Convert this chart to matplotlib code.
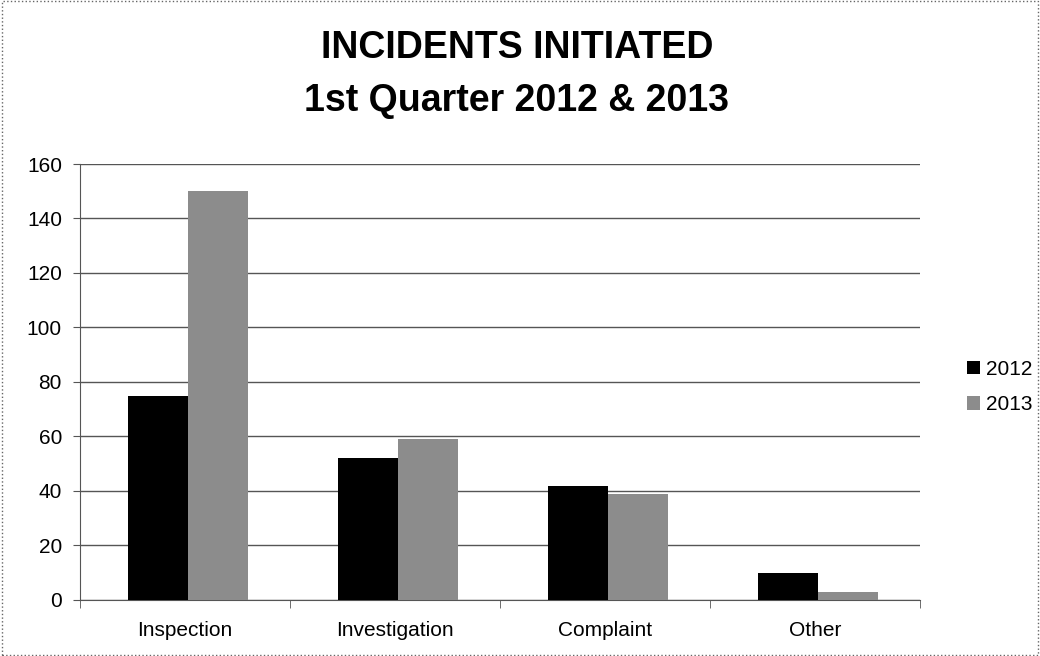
import matplotlib.pyplot as plt
from matplotlib.patches import Rectangle
import numpy as np

# data
categories = ["Inspection", "Investigation", "Complaint", "Other"]
vals_2012 = [75, 52, 42, 10]
vals_2013 = [150, 59, 39, 3]
yticks = [0, 20, 40, 60, 80, 100, 120, 140, 160]

plt.rcParams["font.family"] = ["Liberation Sans", "DejaVu Sans"]

fig = plt.figure(figsize=(10.4, 6.56), dpi=100)
ax = fig.add_axes([0.0769, 0.0854, 0.8077, 0.6646])

x = np.arange(len(categories))
w = 0.285
off = 0.015
ax.bar(x - w / 2 + off, vals_2012, w, color="black", label="2012", zorder=3)
ax.bar(x + w / 2 + off, vals_2013, w, color="#8c8c8c", label="2013", zorder=3)

ax.set_xlim(-0.5, len(categories) - 0.5)
ax.set_ylim(0, 160)
ax.set_yticks(yticks)
ax.yaxis.grid(True, color="#555555", linewidth=1, zorder=0)

ax.set_xticks(x)
ax.set_xticklabels(categories, fontsize=15)
ax.set_xticks(np.arange(-0.5, len(categories)), minor=True)
ax.tick_params(axis="x", which="major", length=0, pad=15)
ax.tick_params(axis="x", which="minor", length=6, color="#555555", direction="out")
ax.tick_params(axis="y", labelsize=15, length=5, color="#555555", pad=8)

for s in ["top", "right"]:
    ax.spines[s].set_visible(False)
ax.spines["left"].set_color("#555555")
ax.spines["bottom"].set_color("#555555")

fig.text(0.497, 0.927, "INCIDENTS INITIATED", ha="center", va="center",
         fontsize=27, fontweight="bold")
fig.text(0.497, 0.846, "1st Quarter 2012 & 2013", ha="center", va="center",
         fontsize=27, fontweight="bold")

fig.legend(loc="center left", bbox_to_anchor=(0.912, 0.41), frameon=False,
           fontsize=15, handlelength=0.6, handleheight=0.6, handletextpad=0.3,
           labelspacing=0.8)

# dotted border around the whole chart
fig.patches.append(Rectangle((0.002, 0.002), 0.996, 0.996, transform=fig.transFigure,
                             fill=False, edgecolor="#666666", linestyle=":", linewidth=1))

fig.savefig("out.png", dpi=100)
